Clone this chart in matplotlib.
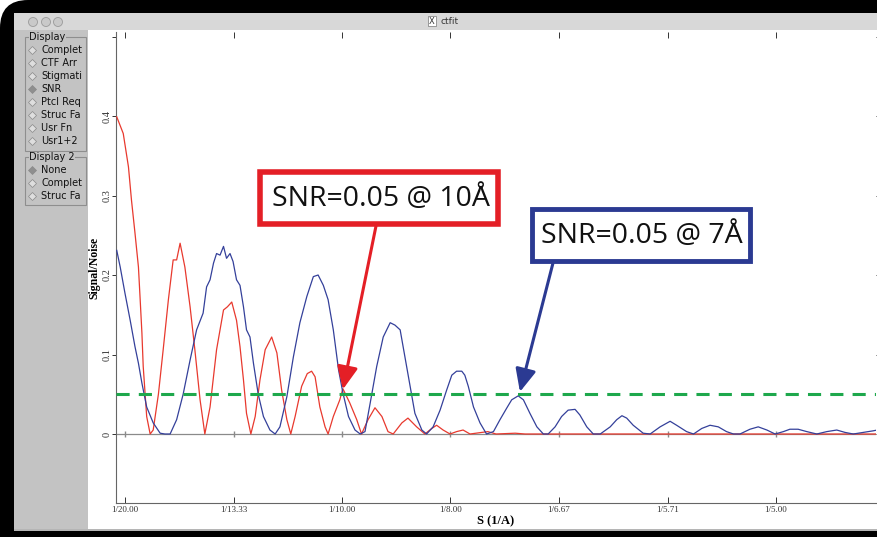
import matplotlib
matplotlib.use("Agg")
import matplotlib.pyplot as plt
from matplotlib.patches import Rectangle, Ellipse, FancyBboxPatch

W, H = 877, 537

# data: spatial frequency S (1/A) vs signal/noise
s_red = [0.0481, 0.0496, 0.0508, 0.0515, 0.0523, 0.0531, 0.0535, 0.0539, 0.0542, 0.0550,
         0.0558, 0.0565, 0.0577, 0.0588, 0.0600, 0.0611, 0.0619, 0.0627, 0.0638, 0.0650,
         0.0661, 0.0673, 0.0684, 0.0696, 0.0711, 0.0727, 0.0736, 0.0746, 0.0757, 0.0765,
         0.0773, 0.0780, 0.0790, 0.0800, 0.0811, 0.0823, 0.0838, 0.0850, 0.0861, 0.0873,
         0.0882, 0.0892, 0.0907, 0.0920, 0.0930, 0.0938, 0.0949, 0.0961, 0.0968, 0.0980,
         0.0995, 0.1002, 0.1018, 0.1034, 0.1045, 0.1060, 0.1076, 0.1092, 0.1106, 0.1118,
         0.1138, 0.1152, 0.1172, 0.1191, 0.1207, 0.1218, 0.1233, 0.1249, 0.1264, 0.1279,
         0.1295, 0.1336, 0.1355, 0.1399, 0.1422, 0.2233]
snr_red = [0.399, 0.378, 0.336, 0.294, 0.253, 0.210, 0.169, 0.127, 0.085, 0.022,
           0.000, 0.005, 0.050, 0.106, 0.169, 0.219, 0.219, 0.240, 0.210, 0.160,
           0.106, 0.043, 0.000, 0.034, 0.106, 0.156, 0.160, 0.166, 0.143, 0.110,
           0.068, 0.026, 0.000, 0.022, 0.068, 0.106, 0.122, 0.102, 0.055, 0.018,
           0.000, 0.022, 0.060, 0.076, 0.079, 0.072, 0.034, 0.009, 0.000, 0.022,
           0.043, 0.057, 0.039, 0.018, 0.000, 0.018, 0.033, 0.022, 0.003, 0.000,
           0.014, 0.020, 0.009, 0.000, 0.007, 0.011, 0.005, 0.000, 0.003, 0.005,
           0.000, 0.003, 0.000, 0.001, 0.000, 0.000]

s_blue = [0.0481, 0.0489, 0.0500, 0.0512, 0.0523, 0.0531, 0.0539, 0.0550, 0.0565, 0.0581,
          0.0592, 0.0604, 0.0619, 0.0634, 0.0650, 0.0665, 0.0680, 0.0688, 0.0696, 0.0704,
          0.0711, 0.0719, 0.0727, 0.0734, 0.0742, 0.0749, 0.0757, 0.0765, 0.0773, 0.0780,
          0.0788, 0.0796, 0.0807, 0.0819, 0.0834, 0.0846, 0.0857, 0.0873, 0.0888, 0.0903,
          0.0919, 0.0934, 0.0945, 0.0957, 0.0968, 0.0980, 0.0992, 0.1002, 0.1015, 0.1030,
          0.1042, 0.1053, 0.1065, 0.1080, 0.1095, 0.1111, 0.1122, 0.1134, 0.1145, 0.1157,
          0.1168, 0.1184, 0.1195, 0.1210, 0.1226, 0.1241, 0.1253, 0.1264, 0.1276, 0.1283,
          0.1291, 0.1303, 0.1318, 0.1333, 0.1349, 0.1364, 0.1380, 0.1391, 0.1406, 0.1418,
          0.1433, 0.1449, 0.1464, 0.1475, 0.1491, 0.1506, 0.1521, 0.1537, 0.1548, 0.1564,
          0.1579, 0.1595, 0.1618, 0.1633, 0.1645, 0.1656, 0.1671, 0.1694, 0.1710, 0.1733,
          0.1756, 0.1771, 0.1794, 0.1810, 0.1829, 0.1848, 0.1867, 0.1886, 0.1902, 0.1917,
          0.1940, 0.1959, 0.1979, 0.1998, 0.2017, 0.2032, 0.2051, 0.2071, 0.2094, 0.2117,
          0.2140, 0.2159, 0.2178, 0.2201, 0.2224, 0.2233]
snr_blue = [0.231, 0.210, 0.177, 0.143, 0.110, 0.089, 0.064, 0.034, 0.014, 0.001,
            0.000, 0.000, 0.018, 0.050, 0.093, 0.131, 0.152, 0.185, 0.194, 0.215,
            0.227, 0.225, 0.236, 0.221, 0.227, 0.217, 0.194, 0.187, 0.160, 0.131,
            0.122, 0.089, 0.050, 0.022, 0.005, 0.000, 0.009, 0.047, 0.097, 0.140,
            0.173, 0.198, 0.200, 0.187, 0.169, 0.131, 0.081, 0.052, 0.022, 0.005,
            0.000, 0.003, 0.039, 0.085, 0.122, 0.140, 0.137, 0.131, 0.097, 0.060,
            0.026, 0.005, 0.000, 0.009, 0.030, 0.055, 0.074, 0.079, 0.079, 0.074,
            0.060, 0.034, 0.014, 0.000, 0.003, 0.018, 0.033, 0.043, 0.048, 0.043,
            0.026, 0.009, 0.000, 0.000, 0.009, 0.022, 0.030, 0.031, 0.024, 0.009,
            0.000, 0.000, 0.009, 0.018, 0.023, 0.020, 0.011, 0.001, 0.000, 0.009,
            0.016, 0.011, 0.003, 0.000, 0.007, 0.011, 0.009, 0.003, 0.000, 0.000,
            0.006, 0.009, 0.005, 0.000, 0.003, 0.006, 0.006, 0.003, 0.000, 0.003,
            0.005, 0.002, 0.000, 0.002, 0.004, 0.005]

x_ticks = [1/20, 1/13.33, 1/10, 1/8, 1/6.67, 1/5.71, 1/5]
x_labels = ["1/20.00", "1/13.33", "1/10.00", "1/8.00", "1/6.67", "1/5.71", "1/5.00"]
y_ticks = [0, 0.1, 0.2, 0.3, 0.4, 0.5]
y_labels = ["0", "0.1", "0.2", "0.3", "0.4", ""]
snr_cut = 0.05
red_hit = (0.1002, 0.056)   # red curve crosses 0.05 at ~10 A
blue_hit = (0.1410, 0.053)  # blue curve crosses 0.05 at ~7 A

display_items = ["Complet", "CTF Arr", "Stigmati", "SNR", "Ptcl Req", "Struc Fa", "Usr Fn", "Usr1+2"]
display2_items = ["None", "Complet", "Struc Fa"]

RED = "#e8392e"
BLUE = "#34409a"
GREEN = "#1ea84c"


def fx(x):
    return x / W


def fy(y):
    return 1 - y / H


def frect(x0, y0, x1, y1, z=-10, **kw):
    r = Rectangle((fx(x0), fy(y1)), fx(x1) - fx(x0), fy(y0) - fy(y1),
                  transform=fig.transFigure, zorder=z, **kw)
    fig.add_artist(r)
    return r


fig = plt.figure(figsize=(W / 100, H / 100), dpi=100, facecolor="white")

# black surround with a rounded top-left corner (pixel coords)
fig.add_artist(FancyBboxPatch((0, -80), W + 80, H + 80,
                              boxstyle="round,pad=0,rounding_size=28",
                              transform=None, facecolor="black", edgecolor="none", zorder=-20))

# window chrome (behind the axes)
frect(14, 13, 877, 30, facecolor="#d8d8d8", edgecolor="none")
frect(14, 30, 88, 531, facecolor="#c3c3c3", edgecolor="none")
frect(88, 30, 877, 529, facecolor="white", edgecolor="none")
frect(14, 529, 877, 531, facecolor="#b5b5b5", edgecolor="none")
for cx in [33, 46, 58]:
    fig.add_artist(Ellipse((fx(cx), fy(22)), 9 / W, 9 / H, transform=fig.transFigure,
                           facecolor="#c9c9c9", edgecolor="#9a9a9a", lw=0.6, zorder=-5))
fig.text(fx(432), fy(21), "X", fontsize=6, ha="center", va="center", color="#333333",
         bbox=dict(boxstyle="square,pad=0.1", fc="white", ec="#777777", lw=0.5))
fig.text(fx(440), fy(21), "ctfit", fontsize=6.5, ha="left", va="center", color="#333333")


# left control panel
def group(title, items, y_top, y_bot):
    frect(25, y_top, 86, y_bot, z=-5, facecolor="none", edgecolor="#8e8e8e", lw=0.8)
    fig.text(fx(29), fy(y_top), title, fontsize=7, ha="left", va="center",
             color="#111111", family="DejaVu Sans",
             bbox=dict(boxstyle="square,pad=0.05", fc="#c3c3c3", ec="none"))
    for i, name in enumerate(items):
        yy = y_top + 13 + 13 * i
        fig.text(fx(41), fy(yy), name, fontsize=7, ha="left", va="center",
                 color="#111111", family="DejaVu Sans")
        sel = name in ("SNR", "None")
        fig.add_artist(plt.Line2D([fx(32)], [fy(yy)], transform=fig.transFigure,
                                  marker="D", ms=4, mfc="#8f8f8f" if sel else "#dedede",
                                  mec="#8a8a8a", mew=0.5))


group("Display", display_items, 37, 151)
group("Display 2", display2_items, 157, 205)

# plot axes
ax = fig.add_axes([fx(116), fy(503), fx(876) - fx(116), fy(32) - fy(503)])
ax.set_facecolor("none")
ax.set_xlim(0.04793, 0.22304)
ax.set_ylim(-0.0868, 0.5057)

ax.axhline(0, color="#8a8a8a", lw=0.9, zorder=1)
ax.plot(x_ticks, [0] * len(x_ticks), ls="none", marker="|", ms=4, color="#8a8a8a", zorder=1)
ax.plot(s_red, snr_red, color=RED, lw=0.9, zorder=3)
ax.plot(s_blue, snr_blue, color=BLUE, lw=0.9, zorder=3)
ax.axhline(snr_cut, color=GREEN, lw=2.2, dashes=(4.3, 3.0), zorder=4)

ax.set_xticks(x_ticks)
ax.set_xticklabels(x_labels, family="Liberation Serif", fontsize=6.5)
ax.set_yticks(y_ticks)
ax.set_yticklabels(y_labels, family="Liberation Serif", fontsize=7.5, rotation=90, va="center")
ax.tick_params(axis="x", direction="in", length=4, width=0.7, pad=2, top=True, colors="#333333")
ax.tick_params(axis="y", direction="out", length=3, width=0.7, pad=0.5, right=True, colors="#333333")
for sp in ax.spines.values():
    sp.set_color("#666666")
    sp.set_linewidth(0.8)
ax.spines["top"].set_visible(False)
ax.spines["right"].set_visible(False)

ax.set_xlabel("S (1/A)", family="Liberation Serif", fontweight="bold", fontsize=9, labelpad=1)
ax.set_ylabel("Signal/Noise", family="Liberation Serif", fontweight="bold", fontsize=8.5, labelpad=1)

# annotations
frect(260, 172, 498, 224, z=5, facecolor="white", edgecolor="#e41f26", lw=4)
fig.text(fx(381), fy(199), "SNR=0.05 @ 10Å", family="Open Sans", fontsize=20.5,
         ha="center", va="center", color="#111111", zorder=6)
frect(532, 209, 750, 261, z=5, facecolor="white", edgecolor="#2b3a92", lw=3.5)
fig.text(fx(642), fy(236), "SNR=0.05 @ 7Å", family="Open Sans", fontsize=20.5,
         ha="center", va="center", color="#111111", zorder=6)

for start, hit, col in [((376, 226), red_hit, "#e41f26"), ((553, 263), blue_hit, "#2b3a92")]:
    ax.annotate("", xy=hit, xycoords="data", xytext=(fx(start[0]), fy(start[1])),
                textcoords="figure fraction",
                arrowprops=dict(arrowstyle="-|>,head_length=0.55,head_width=0.25",
                                mutation_scale=25, color=col, lw=2.2,
                                shrinkA=0, shrinkB=0), zorder=10, annotation_clip=False)

fig.savefig("out.png", dpi=100, facecolor=fig.get_facecolor())
